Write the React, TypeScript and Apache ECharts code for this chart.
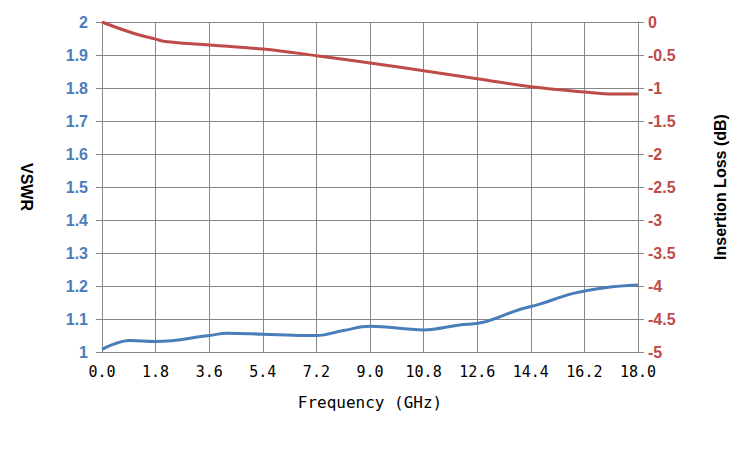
import { useEffect, useRef } from 'react';
import * as echarts from 'echarts';

// VSWR 曲线 (GHz, VSWR)
const vswrFreq = [0, 0.94, 1.8, 3.6, 4.2, 5.4, 6.8, 7.2, 8.1, 9.0, 10.8, 12.0, 12.8, 14.0, 14.7, 15.8, 16.9, 18.0];
const vswrValues = [1.008, 1.035, 1.032, 1.05, 1.057, 1.054, 1.05, 1.05, 1.065, 1.078, 1.067, 1.082, 1.09, 1.128, 1.145, 1.177, 1.195, 1.203];

// 插入损耗曲线 (GHz, dB)
const lossFreq = [0, 0.9, 1.8, 2.2, 3.6, 5.4, 7.2, 9.0, 10.8, 12.6, 14.4, 16.2, 17.2, 18.0];
const lossValues = [0, -0.147, -0.26, -0.3, -0.35, -0.41, -0.51, -0.62, -0.74, -0.86, -0.98, -1.06, -1.09, -1.09];

const blue = '#4a7ebb';
const red = '#be4b48';
const gridColor = '#868686';

export default function App() {
  const chartRef = useRef<HTMLDivElement>(null);

  useEffect(() => {
    if (!chartRef.current) return;
    const chart = echarts.init(chartRef.current, undefined, { renderer: 'svg' });

    const option: echarts.EChartsOption = {
      animation: false,
      grid: { left: 102, right: 112, top: 22, bottom: 98 },
      xAxis: {
        type: 'value',
        min: 0,
        max: 18,
        interval: 1.8,
        name: 'Frequency (GHz)',
        nameLocation: 'middle',
        nameGap: 42,
        nameTextStyle: { fontFamily: 'DejaVu Sans Mono', fontSize: 16, color: '#000' },
        axisLine: { lineStyle: { color: gridColor } },
        axisTick: { show: true, length: 6, lineStyle: { color: gridColor } },
        splitLine: { show: true, lineStyle: { color: gridColor } },
        axisLabel: {
          formatter: (v: number) => v.toFixed(1),
          fontFamily: 'DejaVu Sans Mono',
          fontSize: 15,
          color: '#000',
          margin: 12,
        },
      },
      yAxis: [
        {
          type: 'value',
          min: 1,
          max: 2,
          interval: 0.1,
          name: 'VSWR',
          nameLocation: 'middle',
          nameGap: 68,
          nameRotate: -90,
          nameTextStyle: { fontFamily: 'Liberation Sans', fontWeight: 'bold', fontSize: 16, color: '#000' },
          axisLine: { show: true, lineStyle: { color: gridColor } },
          axisTick: { show: true, length: 6, lineStyle: { color: gridColor } },
          splitLine: { show: true, lineStyle: { color: gridColor } },
          axisLabel: {
            formatter: (v: number) => String(Math.round(v * 10) / 10),
            fontFamily: 'Liberation Sans',
            fontWeight: 'bold',
            fontSize: 16,
            color: blue,
            margin: 14,
          },
        },
        {
          type: 'value',
          min: -5,
          max: 0,
          interval: 0.5,
          position: 'right',
          name: 'Insertion Loss (dB)',
          nameLocation: 'middle',
          nameGap: 74,
          nameRotate: 90,
          nameTextStyle: { fontFamily: 'Liberation Sans', fontWeight: 'bold', fontSize: 16, color: '#000' },
          axisLine: { show: true, lineStyle: { color: gridColor } },
          axisTick: { show: true, length: 6, lineStyle: { color: gridColor } },
          splitLine: { show: false },
          axisLabel: {
            formatter: (v: number) => String(Math.round(v * 10) / 10),
            fontFamily: 'Liberation Sans',
            fontWeight: 'bold',
            fontSize: 16,
            color: red,
            margin: 10,
          },
        },
      ],
      series: [
        {
          name: 'VSWR',
          type: 'line',
          yAxisIndex: 0,
          smooth: 0.4,
          showSymbol: false,
          data: vswrFreq.map((f, i) => [f, vswrValues[i]]),
          lineStyle: { width: 3, color: blue },
        },
        {
          name: 'Insertion Loss',
          type: 'line',
          yAxisIndex: 1,
          smooth: 0.4,
          showSymbol: false,
          data: lossFreq.map((f, i) => [f, lossValues[i]]),
          lineStyle: { width: 3, color: red },
        },
      ],
    };

    chart.setOption(option);
    return () => chart.dispose();
  }, []);

  return <div ref={chartRef} style={{ width: 750, height: 450, margin: -8 }} />;
}
